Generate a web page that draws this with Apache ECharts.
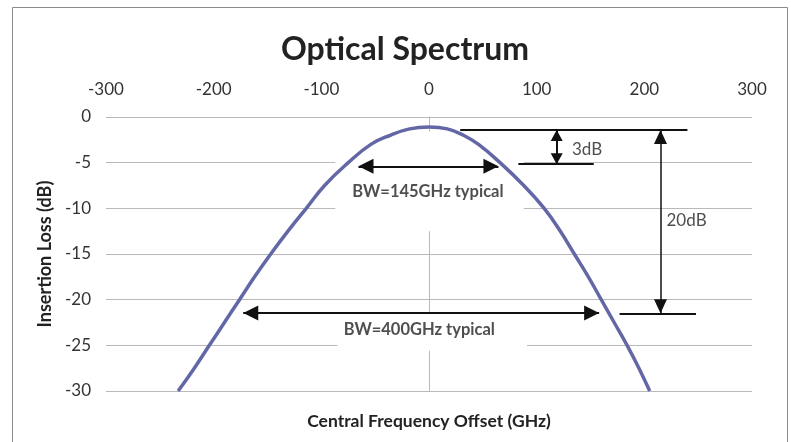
<!DOCTYPE html>
<html>
<head>
<meta charset="utf-8">
<script src="https://cdn.jsdelivr.net/npm/echarts@6/dist/echarts.min.js"></script>
<style>
  html, body { margin: 0; padding: 0; background: #fff; }
  #chart { width: 791px; height: 442px; }
</style>
</head>
<body>
<div id="chart"></div>
<script>
// curve: offset (GHz) vs insertion loss (dB)
const freqGHz = [-233, -218, -204, -190, -176, -162, -147, -131, -114, -97, -75, -54, -36, -18, 0, 17, 32, 46, 66, 88, 107, 122, 135, 148, 160, 172, 184, 195, 205]
const lossDb = [-30, -27.5, -25, -22.5, -20, -17.5, -15, -12.5, -10, -7.5, -5, -3, -2, -1.3, -1.1, -1.3, -2, -3, -5, -7.5, -10, -12.5, -15, -17.5, -20, -22.5, -25, -27.5, -30]

const xTicks = { min: -300, max: 300, step: 100 }
const yTicks = { min: -30, max: 0, step: 5 }

// annotation geometry in data units [x1, y1, x2, y2]
const levelLines = [
  [29, -1.42, 240, -1.42],
  [83, -5.17, 153, -5.17],
  [177, -21.5, 248, -21.5],
]
const bwArrows = [
  [-65.5, -5.4, 64.5, -5.4],
  [-172.5, -21.45, 158, -21.45],
]
const dbArrows = [
  [118.6, -1.42, 118.6, -5.17],
  [215, -1.42, 215, -21.5],
]
const boldLabels = [
  [-1, -8.2, 'BW=145GHz typical'],
  [-9, -23.25, 'BW=400GHz typical'],
]
const plainLabels = [
  [132.8, -3.57, '3dB'],
  [220.6, -11.3, '20dB'],
]
// white text boxes behind the BW labels [x1, y1, x2, y2]
const labelBoxes = [
  [-87, -1.6, 88, -12.5],
  [-85, -21.6, 91, -25.6],
]

const chart = echarts.init(document.getElementById('chart'), null, { renderer: 'canvas' })

const font = 'Lato, "Open Sans", sans-serif'
const gridColor = '#b9b9b9'

function seg(l, width, arrow) {
  const end = arrow
    ? { symbol: 'triangle', symbolSize: arrow, symbolOffset: [0, '50%'] }
    : { symbol: 'none' }
  return [
    Object.assign({ coord: [l[0], l[1]], lineStyle: { color: '#111', width: width, type: 'solid' } }, end),
    Object.assign({ coord: [l[2], l[3]] }, end),
  ]
}

chart.setOption({
  animation: false,
  backgroundColor: '#fff',
  title: {
    text: 'Optical Spectrum',
    left: 400,
    textAlign: 'center',
    top: 29,
    textStyle: { fontFamily: font, fontSize: 32, fontWeight: 'bold', color: '#222' },
  },
  graphic: [{
    type: 'rect',
    shape: { x: 12.5, y: 7.5, width: 775, height: 480 },
    style: { fill: 'none', stroke: '#8a8a8a', lineWidth: 1 },
    silent: true,
    z: -1,
  }],
  grid: { left: 106, right: 39, top: 117, bottom: 51 },
  xAxis: [
    {
      type: 'value',
      position: 'top',
      min: xTicks.min,
      max: xTicks.max,
      interval: xTicks.step,
      axisLine: { show: false, onZero: false },
      axisTick: { show: false },
      splitLine: { show: false },
      axisLabel: { color: '#333', fontFamily: font, fontSize: 17, margin: 19 },
    },
    {
      type: 'value',
      position: 'bottom',
      min: xTicks.min,
      max: xTicks.max,
      axisLine: { show: false, onZero: false },
      axisTick: { show: false },
      splitLine: { show: false },
      axisLabel: { show: false },
      name: 'Central Frequency Offset (GHz)',
      nameLocation: 'middle',
      nameGap: 21,
      nameTextStyle: { color: '#222', fontFamily: font, fontSize: 17.5, fontWeight: 'bold' },
    },
  ],
  yAxis: [
    {
      type: 'value',
      min: yTicks.min,
      max: yTicks.max,
      interval: yTicks.step,
      axisLine: { show: false, onZero: false },
      axisTick: { show: false },
      splitLine: { lineStyle: { color: gridColor, width: 1 } },
      axisLabel: { color: '#333', fontFamily: font, fontSize: 17, margin: 15 },
      name: 'Insertion Loss (dB)',
      nameLocation: 'middle',
      nameGap: 49,
      nameTextStyle: { color: '#222', fontFamily: font, fontSize: 18, fontWeight: 'bold' },
    },
    {
      type: 'value',
      min: yTicks.min,
      max: yTicks.max,
      axisLine: { show: true, onZero: true, lineStyle: { color: gridColor, width: 1 } },
      axisTick: { show: false },
      splitLine: { show: false },
      axisLabel: { show: false },
    },
  ],
  series: [
    {
      name: 'boxes',
      type: 'line',
      data: [],
      z: 1,
      silent: true,
      markArea: {
        silent: true,
        itemStyle: { color: '#fff' },
        data: labelBoxes.map((b) => [{ coord: [b[0], b[1]] }, { coord: [b[2], b[3]] }]),
      },
    },
    {
      name: 'Optical Spectrum',
      type: 'line',
      data: freqGHz.map((f, i) => [f, lossDb[i]]),
      smooth: 0.45,
      showSymbol: false,
      z: 3,
      lineStyle: { color: '#6367a6', width: 3.5 },
      itemStyle: { color: '#6367a6' },
    },
    {
      name: 'annotations',
      type: 'line',
      data: [],
      z: 4,
      markLine: {
        silent: true,
        animation: false,
        label: { show: false },
        symbol: ['none', 'none'],
        data: [
          ...levelLines.map((l) => seg(l, 2)),
          ...bwArrows.map((l) => seg(l, 2, [15, 15])),
          seg(dbArrows[0], 2, [12, 11]),
          seg(dbArrows[1], 1.5, [13, 14]),
        ],
      },
    },
    {
      name: 'boldText',
      type: 'scatter',
      z: 5,
      symbolSize: 0,
      silent: true,
      data: boldLabels.map((d) => ({ value: [d[0], d[1]], name: d[2] })),
      label: {
        show: true,
        position: 'inside',
        formatter: (p) => p.name,
        color: '#222',
        fontFamily: font,
        fontSize: 16.5,
        fontWeight: 'bold',
      },
    },
    {
      name: 'plainText',
      type: 'scatter',
      z: 5,
      symbolSize: 0,
      silent: true,
      data: plainLabels.map((d) => ({ value: [d[0], d[1]], name: d[2] })),
      label: {
        show: true,
        position: 'right',
        distance: 0,
        formatter: (p) => p.name,
        color: '#222',
        fontFamily: font,
        fontSize: 17,
      },
    },
  ],
})
</script>
</body>
</html>
